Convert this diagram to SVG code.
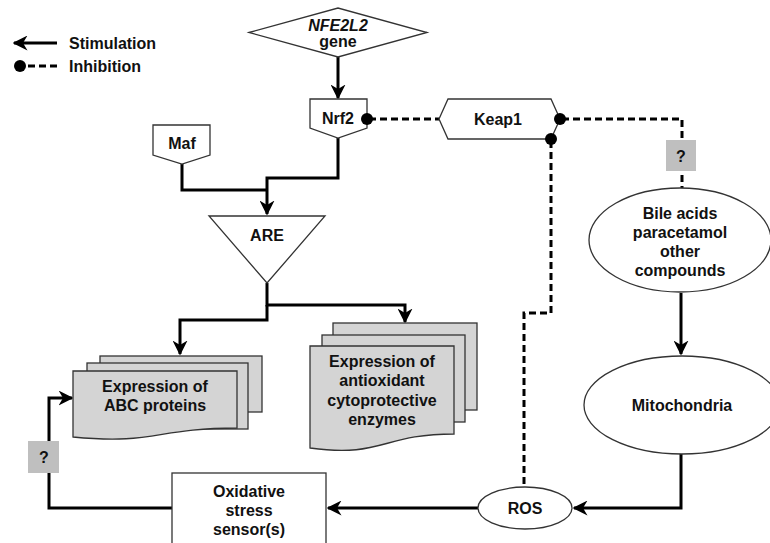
<svg xmlns="http://www.w3.org/2000/svg" width="770" height="543" viewBox="0 0 770 543">
<style>
text{font-family:"Liberation Sans",Arial,sans-serif;font-weight:bold;font-size:16px;fill:#111;text-anchor:middle}
.shape{fill:#fff;stroke:#333;stroke-width:1.3}
.doc{fill:#d4d4d4;stroke:#333;stroke-width:1.3}
.q{fill:#bfbfbf;stroke:none}
.stim{fill:none;stroke:#000;stroke-width:3;marker-end:url(#arr)}
.stimn{fill:none;stroke:#000;stroke-width:3}
.inh{fill:none;stroke:#000;stroke-width:3;stroke-dasharray:7 4}
.dot{fill:#000}
</style>
<defs>
<marker id="arr" viewBox="0 0 10 10" refX="9" refY="5" markerWidth="5" markerHeight="5" markerUnits="strokeWidth" orient="auto">
<path d="M0,0 L10,5 L0,10 L3,5 Z" fill="#000"/>
</marker>
</defs>
<rect width="770" height="543" fill="#fff"/>

<g id="legend">
<path class="stim" d="M57,43 L14,43"/>
<text x="69" y="49" style="text-anchor:start">Stimulation</text>
<path class="inh" d="M57,66 L22,66"/>
<circle class="dot" cx="20" cy="66" r="6"/>
<text x="69" y="72" style="text-anchor:start">Inhibition</text>
</g>

<g id="connectors">
<path class="stim" d="M338,57 L338,98"/>
<path class="stimn" d="M182,164 L182,190 L267,190"/>
<path class="stim" d="M338,138 L338,178 L267,178 L267,214"/>
<path class="stim" d="M267,283 L267,305 L405,305 L405,322"/>
<path class="stim" d="M267,305 L267,320 L180,320 L180,354"/>
<path class="stim" d="M681,293 L681,354"/>
<path class="stim" d="M681,454 L681,508 L574,508"/>
<path class="stim" d="M478,508 L328,508"/>
<path class="stim" d="M172,508 L49,508 L49,398 L72,398"/>
<path class="inh" d="M369,119 L439,119"/>
<path class="inh" d="M562,119 L682,119 L682,188"/>
<path class="inh" d="M551,141 L551,313 L524,313 L524,487"/>
</g>

<g id="nfe2l2">
<polygon class="shape" points="249,32.5 338,8 427,32.5 338,57"/>
<text x="338" y="31" style="font-style:italic">NFE2L2</text>
<text x="338" y="47">gene</text>
</g>

<g id="nrf2">
<polygon class="shape" points="310,99 367,99 367,128 338,138 310,128"/>
<text x="338" y="124">Nrf2</text>
</g>

<g id="maf">
<polygon class="shape" points="153,125 210,125 210,155 182,164 153,155"/>
<text x="182" y="149">Maf</text>
</g>

<g id="keap1">
<polygon class="shape" points="439,119 448,99 551,99 560,119 551,139 448,139"/>
<text x="498" y="125">Keap1</text>
</g>

<g id="are">
<polygon class="shape" points="209,216 325,216 267,283"/>
<text x="267" y="241">ARE</text>
</g>

<g id="abc">
<rect class="doc" x="100" y="356" width="162" height="56"/>
<rect class="doc" x="87" y="363" width="161" height="66"/>
<path class="doc" d="M73,371 L237,371 L237,428 C155,428 155,445 73,437 Z"/>
<text x="155" y="392">Expression of</text>
<text x="155" y="411">ABC proteins</text>
</g>

<g id="antioxidant">
<rect class="doc" x="333" y="323" width="144" height="87"/>
<rect class="doc" x="322" y="335" width="143" height="87"/>
<path class="doc" d="M310,346 L454,346 L454,434 C382,434 382,458 310,448 Z"/>
<text x="382" y="367">Expression of</text>
<text x="382" y="386">antioxidant</text>
<text x="382" y="406">cytoprotective</text>
<text x="382" y="425">enzymes</text>
</g>

<g id="bile">
<ellipse class="shape" cx="680" cy="240" rx="91" ry="52"/>
<text x="680" y="219">Bile acids</text>
<text x="680" y="238">paracetamol</text>
<text x="680" y="257">other</text>
<text x="680" y="276">compounds</text>
</g>

<g id="mitochondria">
<ellipse class="shape" cx="682" cy="405" rx="98" ry="49"/>
<text x="682" y="411">Mitochondria</text>
</g>

<g id="ros">
<ellipse class="shape" cx="525" cy="508" rx="47" ry="21"/>
<text x="525" y="514">ROS</text>
</g>

<g id="sensor">
<rect class="shape" x="172" y="473" width="154" height="80"/>
<text x="249" y="497">Oxidative</text>
<text x="249" y="516">stress</text>
<text x="249" y="535">sensor(s)</text>
</g>

<g id="connector-ends">
<circle class="dot" cx="367" cy="119" r="6"/>
<circle class="dot" cx="560" cy="119" r="6"/>
<circle class="dot" cx="551" cy="139" r="6"/>
<rect class="q" x="666" y="140" width="30" height="31"/>
<text x="681" y="162">?</text>
<rect class="q" x="28" y="441" width="31" height="32"/>
<text x="44" y="463">?</text>
</g>
</svg>
